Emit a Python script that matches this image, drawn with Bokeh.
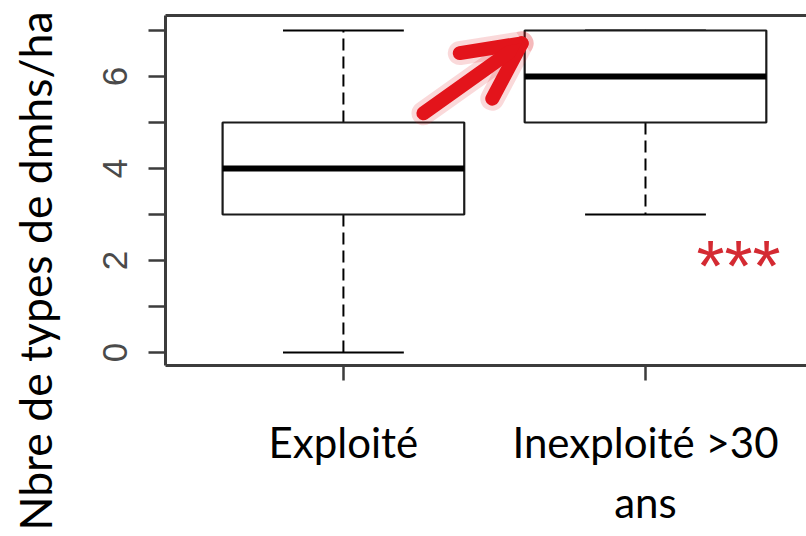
import math
from bokeh.plotting import figure
from bokeh.models import (FixedTicker, LinearAxis, Label, Arrow, OpenHead, Range1d, Title)
from bokeh.embed import file_html
from bokeh.resources import INLINE

# ---- data ----
categories = ["Exploité", "Inexploité >30\nans"]
whisker_low = [0, 3]
q1 = [3, 5]
median = [4, 6]
q3 = [5, 7]
whisker_high = [7, 7]

y_tick_values = [0, 1, 2, 3, 4, 5, 6, 7]
y_tick_labels = ["0", "", "2", "", "4", "", "6", ""]
y_title = "Nbre de types de dmhs/ha"
signif_text = "***"
# annotation positions (data units)
arrow_from = (1.265, 5.2)
arrow_to = (1.59, 6.72)
signif_pos = (2.308, 1.87)

positions = [i + 1 for i in range(len(categories))]
box_w = 0.8
cap_w = 0.4

p = figure(width=806, height=536, output_backend="svg", toolbar_location=None,
           x_range=Range1d(0.411, 2.533), y_range=Range1d(-0.283, 7.326),
           min_border_left=165, min_border_right=0, min_border_top=15, min_border_bottom=171,
           x_axis_location="below")
p.outline_line_color = None
p.grid.visible = False
p.background_fill_color = "white"
p.border_fill_color = "white"

frame_col = "#3c3c3c"

# y axis
ya = p.yaxis[0]
ya.ticker = FixedTicker(ticks=y_tick_values)
ya.major_label_overrides = {v: l for v, l in zip(y_tick_values, y_tick_labels)}
ya.major_label_orientation = "vertical"
ya.major_label_text_font = "Liberation Sans"
ya.major_label_text_font_size = "35px"
ya.major_label_text_color = "#4a4a4a"
ya.major_label_standoff = 21
ya.major_tick_out = 17
ya.major_tick_in = 0
ya.minor_tick_line_color = None
ya.major_tick_line_width = 2.5
ya.major_tick_line_color = frame_col
ya.axis_line_width = 3
ya.axis_line_color = frame_col
# blank spacer label to keep the title away from the tick labels
ya.axis_label = " "
ya.axis_label_text_font_size = "10px"
ya.axis_label_standoff = 21

# x axis
xa = p.xaxis[0]
xa.ticker = FixedTicker(ticks=positions)
xa.major_label_overrides = {pos: c for pos, c in zip(positions, categories)}
xa.major_label_text_font = "Lato"
xa.major_label_text_font_size = "42px"
xa.major_label_text_color = "black"
xa.major_label_text_line_height = 1.2
xa.major_label_standoff = 36
xa.major_tick_out = 15
xa.major_tick_in = 0
xa.minor_tick_line_color = None
xa.major_tick_line_width = 2.5
xa.major_tick_line_color = frame_col
xa.axis_line_width = 3
xa.axis_line_color = frame_col

# top frame line
top = LinearAxis(ticker=FixedTicker(ticks=[]), major_label_text_font_size="0px",
                 axis_line_width=3, axis_line_color=frame_col,
                 major_tick_line_color=None, minor_tick_line_color=None)
p.add_layout(top, "above")

# y title as a left-side title, starting below the frame
p.add_layout(Title(text=y_title, align="left", offset=-165, standoff=10,
                   text_font="Lato", text_font_size="44.5px", text_font_style="normal",
                   text_color="black"), "left")

# whiskers (dashed)
p.segment(x0=positions, y0=q3, x1=positions, y1=whisker_high,
          line_color="black", line_width=2, line_dash="12 6")
p.segment(x0=positions, y0=q1, x1=positions, y1=whisker_low,
          line_color="black", line_width=2, line_dash="12 6")
# caps
p.segment(x0=[x - cap_w / 2 for x in positions], y0=whisker_high,
          x1=[x + cap_w / 2 for x in positions], y1=whisker_high,
          line_color="black", line_width=2.2)
p.segment(x0=[x - cap_w / 2 for x in positions], y0=whisker_low,
          x1=[x + cap_w / 2 for x in positions], y1=whisker_low,
          line_color="black", line_width=2.2)
# boxes
p.quad(left=[x - box_w / 2 for x in positions], right=[x + box_w / 2 for x in positions],
       bottom=q1, top=q3, fill_color="white", line_color="#1a1a1a", line_width=2.2)
# medians
p.segment(x0=[x - box_w / 2 for x in positions], y0=median,
          x1=[x + box_w / 2 for x in positions], y1=median,
          line_color="black", line_width=6)

# red arrow with glow
for w, a in [(24, 0.16), (14, 1.0)]:
    p.add_layout(Arrow(end=OpenHead(size=56, line_width=w, line_color="#e3141b",
                                    line_alpha=a, line_cap="round", line_join="round"),
                       x_start=arrow_from[0], y_start=arrow_from[1],
                       x_end=arrow_to[0], y_end=arrow_to[1],
                       line_width=w, line_color="#e3141b", line_alpha=a, line_cap="round"))

# significance stars
p.add_layout(Label(x=signif_pos[0], y=signif_pos[1], text=signif_text,
                   text_align="center", text_baseline="middle",
                   text_font="Liberation Sans", text_font_size="72px", text_color="#d42a32"))

open("out.html", "w").write(file_html(p, INLINE))
